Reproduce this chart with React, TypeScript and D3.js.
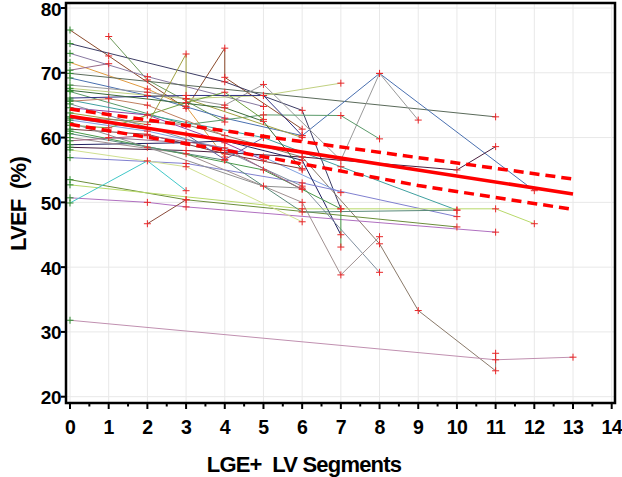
import React from "react";
import * as d3 from "d3";

const xTickValues = [0, 1, 2, 3, 4, 5, 6, 7, 8, 9, 10, 11, 12, 13, 14];
const xMinorTicks = [0.5, 1.5, 2.5, 3.5, 4.5, 5.5, 6.5, 7.5, 8.5, 9.5, 10.5, 11.5, 12.5, 13.5];
const yTickValues = [20, 30, 40, 50, 60, 70, 80];

// per-patient trajectories: LGE+ segments (x) and LVEF (y)
const patientSegments: number[][] = [
  [0, 1, 3, 4, 4, 6],
  [0, 4, 6, 7],
  [1, 2, 4],
  [0, 2, 5],
  [0, 2, 3, 4],
  [0, 1, 1, 3],
  [0, 11],
  [0, 2, 4, 6, 8, 12],
  [0, 2, 4, 5, 7, 8, 9],
  [0, 3, 5, 7],
  [0, 3, 5, 7, 8],
  [0, 3, 5, 6],
  [0, 2, 5, 7, 10],
  [0, 2, 4, 5],
  [0, 2, 3, 3, 6],
  [0, 3, 6, 8, 9, 11, 11],
  [0, 2, 5, 7],
  [0, 3, 6, 10, 11],
  [0, 1, 3, 4, 5],
  [0, 2, 4, 6],
  [0, 3, 4, 6, 7],
  [0, 3, 6, 10],
  [0, 3, 10],
  [0, 6, 11, 12],
  [0, 2, 3, 11],
  [0, 2, 3],
  [2, 3],
  [0, 11, 13],
  [0, 4, 6, 8],
  [0, 3, 6, 7, 8],
  [0, 5, 7, 7],
  [0, 4, 6, 10],
  [0, 3, 6],
  [0, 2, 5, 6],
  [0, 4, 5, 6],
  [0, 1, 2, 4],
  [0, 3, 4, 5],
  [0, 2, 4, 6],
];
const patientLvef: number[][] = [
  [76.6, 72.6, 64.5, 73.8, 69.3, 61.3],
  [74.5, 68.6, 64.2, 49.0],
  [75.6, 68.9, 62.4],
  [73.0, 69.4, 64.8],
  [71.6, 67.5, 64.8, 57.0],
  [70.4, 71.4, 60.0, 59.2],
  [69.9, 63.2],
  [69.2, 66.5, 63.0, 60.3, 69.9, 51.8],
  [68.1, 67.0, 65.0, 68.2, 56.5, 69.9, 62.7],
  [67.6, 66.0, 66.5, 68.4],
  [67.1, 62.0, 63.5, 63.4, 59.8],
  [66.1, 66.5, 66.5, 60.3],
  [65.8, 63.5, 60.0, 55.5, 48.8],
  [64.6, 63.5, 59.2, 56.5],
  [63.8, 62.0, 72.9, 66.0, 60.0],
  [63.2, 62.0, 57.0, 43.6, 33.3, 24.0, 26.7],
  [62.7, 61.0, 57.0, 51.5],
  [58.5, 58.0, 57.0, 55.0, 58.6],
  [61.9, 61.5, 65.4, 67.0, 62.8],
  [61.3, 60.5, 57.5, 55.2],
  [58.9, 59.2, 59.5, 56.5, 45.0],
  [56.9, 56.0, 53.0, 47.8],
  [53.5, 50.4, 46.2],
  [52.7, 49.0, 49.0, 46.7],
  [50.7, 50.0, 49.3, 45.4],
  [49.9, 56.4, 51.8],
  [46.7, 50.4],
  [31.8, 25.7, 26.1],
  [65.2, 58.0, 52.5, 39.2],
  [60.0, 57.5, 50.0, 38.8, 44.7],
  [61.0, 55.0, 49.0, 43.1],
  [60.6, 56.5, 48.5, 48.8],
  [58.1, 55.5, 47.0],
  [62.3, 58.5, 52.5, 52.2],
  [67.3, 64.6, 62.5, 55.0],
  [65.6, 66.0, 65.0, 60.3],
  [63.0, 60.5, 56.6, 60.0],
  [59.5, 60.3, 58.4, 52.0],
];
const patientColors = [
  "#8b4a2b", "#3c3c64", "#6e9a5a", "#8878a0", "#e09a40", "#9a6a8a", "#5a6a5a", "#4a70b0",
  "#9a9a9a", "#c0d080", "#5a9a6a", "#303080", "#40a0a0", "#9040a0", "#a0a040", "#8a7a6a",
  "#80a0e0", "#4a2040", "#70a040", "#7a3a3a", "#202060", "#8080d0", "#6b8e3a", "#b8d96a",
  "#b070c0", "#40c8c8", "#8a4a3a", "#c090b0", "#8090a0", "#a09090", "#4a9a4a", "#5a8a7a",
  "#d0e090", "#909090", "#3a6a3a", "#c08060", "#6060a0", "#a06080",
];

// regression fit and 95% confidence limits
const fitSegments = [0, 13];
const fitLvef = [63.3, 51.3];
const ciSegments = [0, 5, 9, 13];
const ciUpper = [64.4, 60.2, 56.9, 53.6];
const ciLower = [62.05, 57.05, 52.6, 48.9];

const FONT = "'Liberation Sans', Arial, sans-serif";

export default function App() {
  const x = d3.scaleLinear().domain([0, 14]).range([70, 611.7]);
  const y = d3.scaleLinear().domain([20, 80]).range([396.7, 8]);
  const line = d3
    .line<[number, number]>()
    .x((d) => x(d[0]))
    .y((d) => y(d[1]));

  const frame = { left: 66, top: 3, right: 615, bottom: 403 };
  const plus = (cx: number, cy: number, color: string, key: string) => (
    <path
      key={key}
      d={`M${cx - 3.5},${cy}H${cx + 3.5}M${cx},${cy - 3.5}V${cy + 3.5}`}
      stroke={color}
      strokeWidth={1}
      fill="none"
    />
  );

  return (
    <div style={{ position: "absolute", left: 0, top: 0 }}>
      <svg width={622} height={477} style={{ display: "block", background: "#fff" }}>
        <defs>
          <clipPath id="plotclip">
            <rect x={frame.left} y={frame.top} width={frame.right - frame.left} height={frame.bottom - frame.top} />
          </clipPath>
        </defs>
        {/* grid */}
        {xTickValues.map((t) => (
          <line key={"gx" + t} x1={x(t)} x2={x(t)} y1={frame.top} y2={frame.bottom} stroke="#e8e8e8" strokeWidth={1} />
        ))}
        {yTickValues.map((t) => (
          <line key={"gy" + t} x1={frame.left} x2={frame.right} y1={y(t)} y2={y(t)} stroke="#e8e8e8" strokeWidth={1} />
        ))}
        <g clipPath="url(#plotclip)">
          {patientSegments.map((xs, i) => {
            const pts = xs.map((sx, j) => [sx, patientLvef[i][j]] as [number, number]);
            return (
              <path key={"p" + i} d={line(pts) || ""} stroke={patientColors[i % patientColors.length]} strokeWidth={1} fill="none" />
            );
          })}
          {patientSegments.map((xs, i) =>
            xs.map((sx, j) =>
              plus(x(sx), y(patientLvef[i][j]), sx === 0 ? "#2e8b2e" : "#e8282a", `m${i}-${j}`)
            )
          )}
          <path
            d={line(ciSegments.map((s, i) => [s, ciUpper[i]] as [number, number])) || ""}
            stroke="#ff0000"
            strokeWidth={3.5}
            strokeDasharray="10,6"
            fill="none"
          />
          <path
            d={line(ciSegments.map((s, i) => [s, ciLower[i]] as [number, number])) || ""}
            stroke="#ff0000"
            strokeWidth={3.5}
            strokeDasharray="10,6"
            fill="none"
          />
          <path
            d={line(fitSegments.map((s, i) => [s, fitLvef[i]] as [number, number])) || ""}
            stroke="#ff0000"
            strokeWidth={3.5}
            fill="none"
          />
        </g>
        {/* frame */}
        <rect
          x={frame.left}
          y={frame.top}
          width={frame.right - frame.left}
          height={frame.bottom - frame.top}
          fill="none"
          stroke="#000"
          strokeWidth={2.5}
        />
        {/* x ticks */}
        {xTickValues.map((t) => (
          <g key={"xt" + t}>
            <line x1={x(t)} x2={x(t)} y1={frame.bottom} y2={frame.bottom + 6} stroke="#000" strokeWidth={2} />
            <text
              x={x(t)}
              y={434}
              textAnchor="middle"
              fontFamily={FONT}
              fontSize={19.5}
              fontWeight="bold"
              letterSpacing={-0.6}
              fill="#000"
            >
              {t}
            </text>
          </g>
        ))}
        {xMinorTicks.map((t) => (
          <line key={"xm" + t} x1={x(t)} x2={x(t)} y1={frame.bottom} y2={frame.bottom + 3.5} stroke="#000" strokeWidth={2} />
        ))}
        {/* y ticks */}
        {yTickValues.map((t) => (
          <g key={"yt" + t}>
            <line x1={frame.left - 5} x2={frame.left} y1={y(t)} y2={y(t)} stroke="#000" strokeWidth={2} />
            <text
              x={61}
              y={y(t) + 7.5}
              textAnchor="end"
              fontFamily={FONT}
              fontSize={19}
              fontWeight="bold"
              letterSpacing={-0.5}
              fill="#000"
            >
              {t}
            </text>
          </g>
        ))}
        <text
          x={304}
          y={472}
          textAnchor="middle"
          fontFamily={FONT}
          fontSize={22}
          fontWeight="bold"
          letterSpacing={-0.8}
          fill="#000"
          style={{ whiteSpace: "pre" }}
        >
          {"LGE+  LV Segments"}
        </text>
        <text
          transform="translate(26,204) rotate(-90)"
          textAnchor="middle"
          fontFamily={FONT}
          fontSize={22}
          fontWeight="bold"
          letterSpacing={-0.8}
          fill="#000"
          style={{ whiteSpace: "pre" }}
        >
          {"LVEF  (%)"}
        </text>
      </svg>
    </div>
  );
}
